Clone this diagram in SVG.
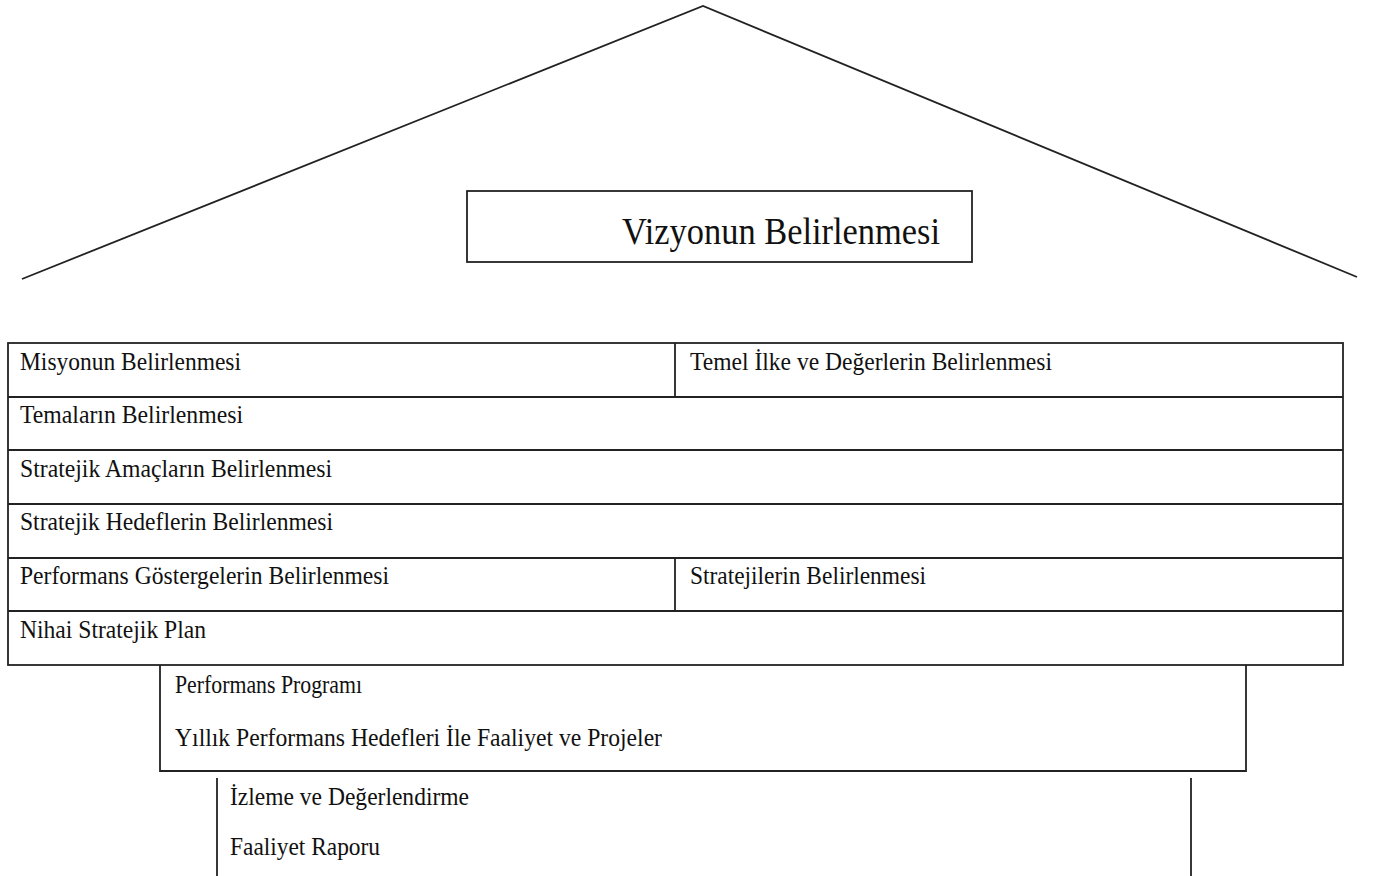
<svg xmlns="http://www.w3.org/2000/svg" width="1373" height="876" viewBox="0 0 1373 876">
<style>
.ln{fill:none;stroke:#222;stroke-width:1.8}
.bx{fill:#fff;stroke:#222;stroke-width:1.8}
.t{font-family:"Liberation Serif","Times New Roman",serif;font-size:25px;fill:#111}
.tv{font-family:"Liberation Serif","Times New Roman",serif;font-size:38px;fill:#111}
</style>
<rect width="1373" height="876" fill="#fff"/>
<g id="roof">
<polyline class="ln" points="22,279 703,6 1357,277"/>
</g>
<g id="vizyon">
<rect class="bx" x="467" y="191" width="505" height="71"/>
<text class="tv" x="622" y="244" textLength="318" lengthAdjust="spacingAndGlyphs">Vizyonun Belirlenmesi</text>
</g>
<g id="table">
<rect class="bx" x="8" y="343" width="1335" height="322"/>
<line class="ln" x1="8" y1="397" x2="1343" y2="397"/>
<line class="ln" x1="8" y1="450" x2="1343" y2="450"/>
<line class="ln" x1="8" y1="504" x2="1343" y2="504"/>
<line class="ln" x1="8" y1="558" x2="1343" y2="558"/>
<line class="ln" x1="8" y1="611" x2="1343" y2="611"/>
<line class="ln" x1="675" y1="343" x2="675" y2="397"/>
<line class="ln" x1="675" y1="558" x2="675" y2="611"/>
</g>
<g id="misyon"><text class="t" x="20" y="370" textLength="221" lengthAdjust="spacingAndGlyphs">Misyonun Belirlenmesi</text></g>
<g id="temel"><text class="t" x="690" y="370" textLength="362" lengthAdjust="spacingAndGlyphs">Temel İlke ve Değerlerin Belirlenmesi</text></g>
<g id="tema"><text class="t" x="20" y="423" textLength="223" lengthAdjust="spacingAndGlyphs">Temaların Belirlenmesi</text></g>
<g id="amac"><text class="t" x="20" y="477" textLength="312" lengthAdjust="spacingAndGlyphs">Stratejik Amaçların Belirlenmesi</text></g>
<g id="hedef"><text class="t" x="20" y="530" textLength="313" lengthAdjust="spacingAndGlyphs">Stratejik Hedeflerin Belirlenmesi</text></g>
<g id="gosterge"><text class="t" x="20" y="584" textLength="369" lengthAdjust="spacingAndGlyphs">Performans Göstergelerin Belirlenmesi</text></g>
<g id="strateji"><text class="t" x="690" y="584" textLength="236" lengthAdjust="spacingAndGlyphs">Stratejilerin Belirlenmesi</text></g>
<g id="nihai"><text class="t" x="20" y="638" textLength="186" lengthAdjust="spacingAndGlyphs">Nihai Stratejik Plan</text></g>
<g id="program">
<polyline class="ln" points="160,665 160,771 1246,771 1246,665"/>
<text class="t" x="175" y="693" textLength="187" lengthAdjust="spacingAndGlyphs">Performans Programı</text>
<text class="t" x="175" y="746" textLength="487" lengthAdjust="spacingAndGlyphs">Yıllık Performans Hedefleri İle Faaliyet ve Projeler</text>
</g>
<g id="izleme">
<line class="ln" x1="217" y1="778" x2="217" y2="876"/>
<line class="ln" x1="1191" y1="778" x2="1191" y2="876"/>
<text class="t" x="230" y="805" textLength="239" lengthAdjust="spacingAndGlyphs">İzleme ve Değerlendirme</text>
<text class="t" x="230" y="855" textLength="150" lengthAdjust="spacingAndGlyphs">Faaliyet Raporu</text>
</g>
<g id="connectors"></g>
</svg>
